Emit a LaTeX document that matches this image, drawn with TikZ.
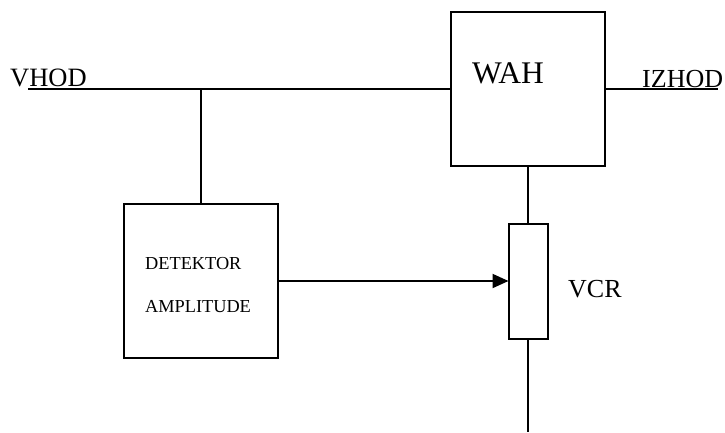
\documentclass[tikz,border=0pt]{standalone}
\usepackage{fontspec}
\setmainfont{Liberation Serif}
\usetikzlibrary{arrows.meta}

\begin{document}
\begin{tikzpicture}[
    x=1pt,y=-1pt,
    blok/.style={rectangle,draw=black,line width=2pt,fill=white,
      inner sep=0pt,outer sep=0pt},
    oznaka/.style={anchor=base west,inner sep=0pt},
    vod/.style={line width=2pt},
    arrow/.style={-{Triangle[length=16pt,width=14pt]},line width=2pt}
  ]
    \useasboundingbox (0,0) rectangle (725,432);

    % bloki
    \node[blok,minimum width=154pt,minimum height=154pt] (wah) at (528,89) {};
    \node[blok,minimum width=154pt,minimum height=154pt] (det) at (201,281) {};
    \node[blok,minimum width=39pt,minimum height=115pt] (vcr) at (528,281) {};

    % napisi
    \node[oznaka,font=\fontsize{31.5}{31.5}\selectfont] (wahtxt) at (472,83) {WAH};
    \node[oznaka,font=\fontsize{18.3}{18.3}\selectfont] (dettxt) at (145,269) {DETEKTOR};
    \node[oznaka,font=\fontsize{18.3}{18.3}\selectfont] (amptxt) at (145,312) {AMPLITUDE};
    \node[oznaka,font=\fontsize{26}{26}\selectfont] (vcrtxt) at (568,297) {VCR};
    \node[oznaka,font=\fontsize{26.5}{26.5}\selectfont] (vhod) at (10,86) {VHOD};
    \node[oznaka,font=\fontsize{26}{26}\selectfont] (izhod) at (642,87) {IZHOD};

    % povezave
    \coordinate (in) at (28,89);
    \coordinate (tap) at (201,89);
    \coordinate (out) at (718,89);
    \coordinate (konec) at (528,432);
    \draw[vod] (in) -- (wah.west);
    \draw[vod] (wah.east) -- (out);
    \draw[vod] (tap) -- (det.north);
    \draw[vod] (wah.south) -- (vcr.north);
    \draw[vod] (vcr.south) -- (konec);
    \draw[arrow] (det.east) -- (vcr.west);
  \end{tikzpicture}
\end{document}
